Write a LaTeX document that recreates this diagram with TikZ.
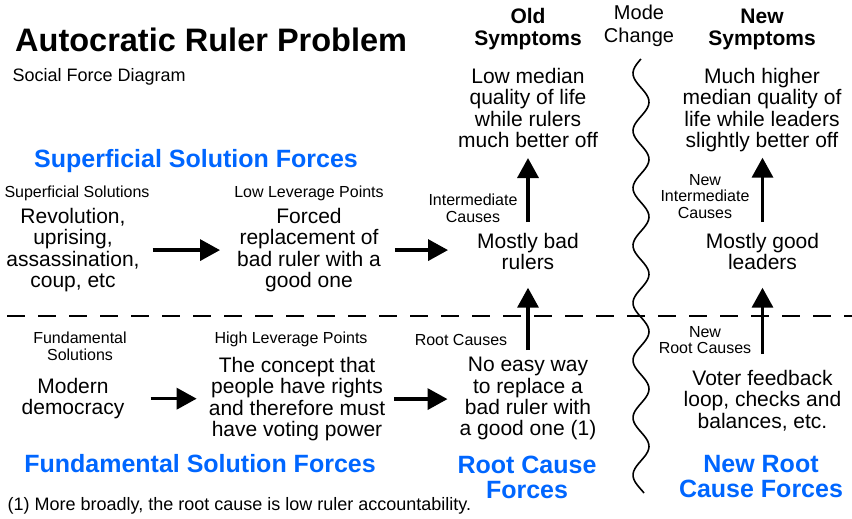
\documentclass[tikz,border=0pt]{standalone}
\usepackage{fontspec}
\setmainfont{Liberation Sans}
\usetikzlibrary{arrows.meta}
\definecolor{forceblue}{RGB}{0,102,255}
\newcommand{\fsz}[2]{\fontsize{#1}{#2}\selectfont}

\begin{document}
\begin{tikzpicture}[x=1pt,y=-1pt,
  txt/.style={align=center,inner sep=0pt,anchor=north,font=\fsz{21}{21.4}},
  lbl/.style={align=center,inner sep=0pt,anchor=north,font=\fsz{16}{16.8}},
  hd/.style={align=center,inner sep=0pt,anchor=north,font=\bfseries\fsz{21}{22}},
  frc/.style={align=center,inner sep=0pt,anchor=north,text=forceblue,font=\bfseries\fsz{25}{25}},
  arr/.style={line width=3.5pt,-{Triangle[length=20pt,width=21pt]}}
    ]
    \useasboundingbox (0,0) rectangle (852,519);
    % title
    \node[inner sep=0pt,anchor=base west,font=\bfseries\fsz{32.5}{34}] (title) at (15,52) {Autocratic Ruler Problem};
    \node[inner sep=0pt,anchor=base west,font=\fsz{18}{20}] (sub) at (12.5,81.7) {Social Force Diagram};
    % column heads
    \node[hd] (old) at (528,8.3) {Old\\Symptoms};
    \node[inner sep=0pt,anchor=north,align=center,font=\fsz{20}{23.5}] (mode) at (639,4.7) {Mode\\Change};
    \node[hd] (new) at (762,8.6) {New\\Symptoms};
    % symptoms
    \node[txt] (lowmed) at (528,68) {Low median\\quality of life\\while rulers\\much better off};
    \node[txt] (muchhigh) at (762,68) {Much higher\\median quality of\\life while leaders\\slightly better off};
    % superficial solutions
    \node[frc,anchor=base] (sspf) at (196,167) {Superficial Solution Forces};
    \node[lbl,anchor=base] (supsol) at (77,197) {Superficial Solutions};
    \node[txt] (rev) at (73,208) {Revolution,\\uprising,\\assassination,\\coup, etc};
    \node[lbl,anchor=base] (lowlev) at (309,197) {Low Leverage Points};
    \node[txt] (forced) at (309,208) {Forced\\replacement of\\bad ruler with a\\good one};
    \node[lbl] (intc) at (473,193.5) {Intermediate\\Causes};
    \node[txt] (mostlybad) at (528,233) {Mostly bad\\rulers};
    \node[lbl,font=\fsz{16}{16.5}] (newintc) at (705,174) {New\\Intermediate\\Causes};
    \node[txt] (mostlygood) at (762.5,233) {Mostly good\\leaders};
    % divider and mode change
    \draw[line width=1.3pt,dash pattern=on 18pt off 13pt] (7,316) -- (852,316);
    \draw[line width=1.6pt] plot[domain=59:493,samples=160,smooth] ({641-8*cos(6.2718*(\x-73.3))},\x);
    % fundamental solutions
    \node[lbl] (fundsol) at (80,331.5) {Fundamental\\Solutions};
    \node[txt] (modern) at (73,378) {Modern\\democracy};
    \node[lbl,anchor=base] (highlev) at (291,343) {High Leverage Points};
    \node[txt] (concept) at (297,357) {The concept that\\people have rights\\and therefore must\\have voting power};
    \node[lbl,anchor=base] (rootc) at (461,345) {Root Causes};
    \node[txt] (noeasy) at (528,357) {No easy way\\to replace a\\bad ruler with\\a good one (1)};
    \node[lbl,font=\fsz{16}{16.5}] (newrootc) at (705,326) {New\\Root Causes};
    \node[txt] (voter) at (762.5,370) {Voter feedback\\loop, checks and\\balances, etc.};
    \node[frc,anchor=base] (fsf) at (200,472) {Fundamental Solution Forces};
    \node[frc] (rcf) at (527,455.5) {Root Cause\\Forces};
    \node[frc] (nrcf) at (761,455.5) {New Root\\Cause Forces};
    \node[inner sep=0pt,anchor=base west,font=\fsz{18}{20}] (note) at (7.5,510) {(1) More broadly, the root cause is low ruler accountability.};
    % forces
    \path (rev.east) edge[arr,shorten <=13pt,shorten >=17pt] (rev.east -| forced.west)
    (forced.east) edge[arr,shorten <=14pt,shorten >=29pt] (forced.east -| mostlybad.west)
    (modern.east) edge[arr,shorten <=26pt,shorten >=12pt] (modern.east -| concept.west)
    (concept.east) edge[arr,shorten <=9pt,shorten >=12pt] (concept.east -| noeasy.west)
    (mostlybad.north) edge[arr,shorten <=11pt,shorten >=10pt] (mostlybad.north |- lowmed.south)
    (noeasy.north) edge[arr,shorten <=7pt,shorten >=17.5pt] (noeasy.north |- mostlybad.south)
    (mostlygood.north) edge[arr,shorten <=11pt,shorten >=5.5pt] (mostlygood.north |- muchhigh.south)
    (voter.north) edge[arr,shorten <=16pt,shorten >=17.5pt] (voter.north |- mostlygood.south);
\end{tikzpicture}
\end{document}
